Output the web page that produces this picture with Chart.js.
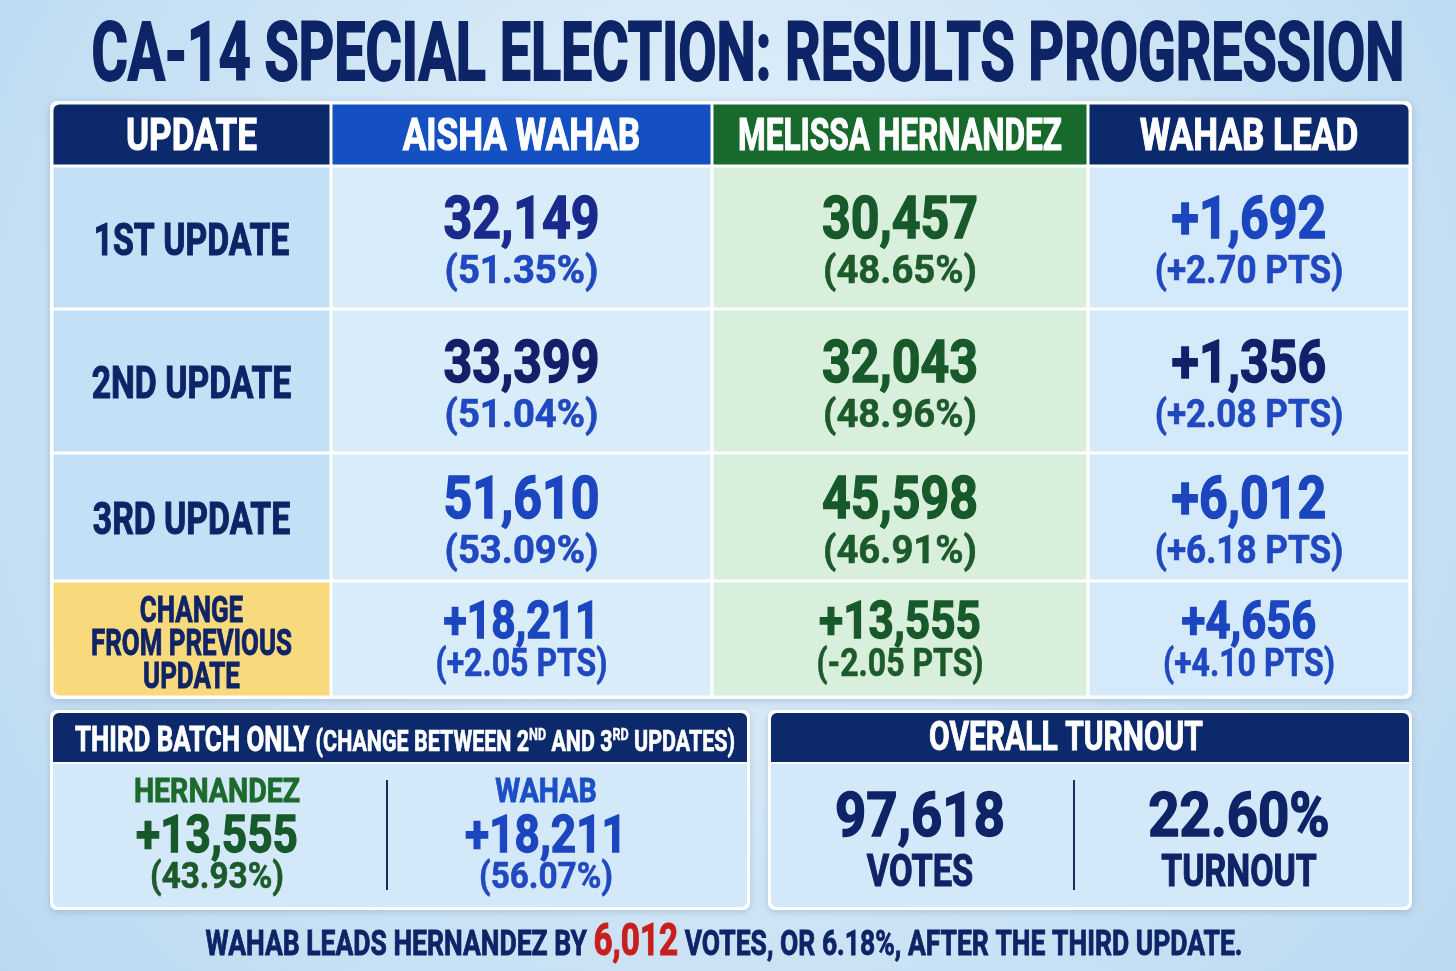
<!DOCTYPE html>
<html>
<head>
<meta charset="utf-8">
<script src="https://cdn.jsdelivr.net/npm/chart.js@4.4.1/dist/chart.umd.min.js"></script>
<style>
  html, body { margin: 0; padding: 0; background: #cfe5f7; overflow: hidden; }
  canvas { display: block; }
</style>
</head>
<body>
<canvas id="board" width="1456" height="971" style="width:1456px;height:971px"></canvas>
<script>
// ---- data ----
const title = "CA-14 SPECIAL ELECTION: RESULTS PROGRESSION";
const columns = ["UPDATE", "AISHA WAHAB", "MELISSA HERNANDEZ", "WAHAB LEAD"];
const updates = ["1ST UPDATE", "2ND UPDATE", "3RD UPDATE", "CHANGE\nFROM PREVIOUS\nUPDATE"];
const wahabVotes = [32149, 33399, 51610, 18211];
const wahabPct = [51.35, 51.04, 53.09, 2.05];
const hernVotes = [30457, 32043, 45598, 13555];
const hernPct = [48.65, 48.96, 46.91, -2.05];
const leadVotes = [1692, 1356, 6012, 4656];
const leadPts = [2.70, 2.08, 6.18, 4.10];
const batchNames = ["HERNANDEZ", "WAHAB"];
const batchVotes = [13555, 18211];
const batchPct = [43.93, 56.07];
const totalVotes = 97618;
const turnoutPct = 22.60;

// ---- layout (scale units) ----
const colEdges = [52, 331, 712, 1088, 1410];
const rowEdges = [103, 166, 309, 453, 581, 697];
const leftPanel = [52, 712, 748, 908];
const rightPanel = [770, 712, 1410, 908];

const SANS = "Roboto, 'Liberation Sans', sans-serif";
const NAVY = "#0f2467";
const GREEN = "#17592a";

const fmt = n => n.toLocaleString("en-US");
const signed = n => (n >= 0 ? "+" : "-") + fmt(Math.abs(n));
const pts = v => (v >= 0 ? "+" : "-") + Math.abs(v).toFixed(2) + " PTS";

// draw a line of text runs, horizontally squeezed to look condensed
function runs(ctx, parts, cx, base, sx, fitW, maxW, weight) {
  let total = 0;
  parts.forEach(p => {
    ctx.font = "bold " + p.s + "px " + SANS;
    p.w = ctx.measureText(p.t).width;
    total += p.w;
  });
  if (fitW) sx = fitW / total;
  if (maxW && total * sx > maxW) sx = maxW / total;
  const k = weight || 40;
  let x = cx - total * sx / 2;
  parts.forEach(p => {
    ctx.save();
    ctx.translate(x, base + (p.dy || 0));
    ctx.scale(sx, 1);
    ctx.font = "bold " + p.s + "px " + SANS;
    ctx.fillStyle = p.c;
    ctx.textAlign = "left";
    ctx.textBaseline = "alphabetic";
    ctx.fillText(p.t, 0, 0);
    ctx.strokeStyle = p.c;
    ctx.lineWidth = p.s / k;
    ctx.strokeText(p.t, 0, 0);
    ctx.restore();
    x += p.w * sx;
  });
}
function txt(ctx, t, cx, base, s, c, sx, o) {
  o = o || {};
  runs(ctx, [{ t: t, s: s, c: c }], cx, base, sx || 0.8, 0, o.maxW, o.weight);
}
function box(ctx, x0, y0, x1, y1, fill, r) {
  ctx.beginPath();
  ctx.roundRect(x0, y0, x1 - x0, y1 - y0, r || 0);
  ctx.fillStyle = fill;
  ctx.fill();
}

const tablePlugin = {
  id: "resultsTable",
  beforeDraw(chart) {
    const ctx = chart.ctx;
    const g = ctx.createRadialGradient(728, 330, 60, 728, 420, 950);
    g.addColorStop(0, "#e4f1fb");
    g.addColorStop(1, "#b9d8f0");
    ctx.fillStyle = g;
    ctx.fillRect(0, 0, chart.width, chart.height);
  },
  afterDraw(chart) {
    const ctx = chart.ctx;
    const X = v => chart.scales.x.getPixelForValue(v);
    const Y = v => chart.scales.y.getPixelForValue(v);

    // title
    runs(ctx, [{ t: title, s: 82, c: "#0d2466" }], X(748), Y(80), 0, 1313);

    // table frame
    ctx.save();
    ctx.shadowColor = "rgba(20,50,100,0.2)";
    ctx.shadowBlur = 8;
    ctx.shadowOffsetY = 2;
    box(ctx, X(colEdges[0]) - 2, Y(rowEdges[0]) - 2, X(colEdges[4]) + 2, Y(rowEdges[5]) + 2, "#ffffff", 7);
    ctx.restore();

    const headFill = ["#0c2a6b", "#1450c2", "#176a2b", "#0c2a6b"];
    const colFill = ["#c3e0f6", "#d9ecfa", "#d8efdb", "#d4e9f9"];
    const nR = updates.length + 1;
    for (let r = 0; r < nR; r++) {
      for (let c = 0; c < columns.length; c++) {
        const x0 = X(colEdges[c]) + 1.5, x1 = X(colEdges[c + 1]) - 1.5;
        const y0 = Y(rowEdges[r]) + 1.5, y1 = Y(rowEdges[r + 1]) - 1.5;
        let fill = r === 0 ? headFill[c] : colFill[c];
        if (r === nR - 1 && c === 0) fill = "#f8d97b";
        const rad = [
          r === 0 && c === 0 ? 6 : 0,
          r === 0 && c === 3 ? 6 : 0,
          r === nR - 1 && c === 3 ? 6 : 0,
          r === nR - 1 && c === 0 ? 6 : 0
        ];
        box(ctx, x0, y0, x1, y1, fill, rad);
      }
    }

    const cx = c => X((colEdges[c] + colEdges[c + 1]) / 2);
    const cy = r => (rowEdges[r + 1] + rowEdges[r + 2]) / 2;

    // header row
    columns.forEach((h, c) => txt(ctx, h, cx(c), Y(150), 45, "#ffffff", 0.78,
      { maxW: X(colEdges[c + 1]) - X(colEdges[c]) - 52 }));

    const wahabNumCol = ["#1a2a8c", "#141f6a", "#1b46bf", "#1b46bf"];
    const leadNumCol = ["#1b46bf", "#141f6a", "#1b46bf", "#1b46bf"];
    const light = { weight: 65 };

    updates.forEach((u, r) => {
      const mid = cy(r);
      const last = r === updates.length - 1;
      if (!last) {
        txt(ctx, u, cx(0), Y(mid + 17), 45, NAVY, 0.75);
        txt(ctx, fmt(wahabVotes[r]), cx(1), Y(mid + 0.5), 59, wahabNumCol[r], 0.85);
        txt(ctx, "(" + wahabPct[r].toFixed(2) + "%)", cx(1), Y(mid + 45.5), 39, "#2048c0", 0.98, light);
        txt(ctx, fmt(hernVotes[r]), cx(2), Y(mid + 0.5), 59, GREEN, 0.85);
        txt(ctx, "(" + hernPct[r].toFixed(2) + "%)", cx(2), Y(mid + 45.5), 39, "#1d5a2b", 0.98, light);
        txt(ctx, signed(leadVotes[r]), cx(3), Y(mid + 0.5), 59, leadNumCol[r], 0.85);
        txt(ctx, "(" + pts(leadPts[r]) + ")", cx(3), Y(mid + 45.5), 39, "#2048c0", 0.9, light);
      } else {
        const top = rowEdges[r + 1];
        u.split("\n").forEach((line, i) => txt(ctx, line, cx(0), Y(top + 41 + i * 33), 37, NAVY, 0.7));
        txt(ctx, signed(wahabVotes[r]), cx(1), Y(top + 57), 52, "#1b46bf", 0.82);
        txt(ctx, "(" + pts(wahabPct[r]) + ")", cx(1), Y(top + 95), 39, "#2048c0", 0.82, light);
        txt(ctx, signed(hernVotes[r]), cx(2), Y(top + 57), 52, GREEN, 0.85);
        txt(ctx, "(" + pts(hernPct[r]) + ")", cx(2), Y(top + 95), 39, "#1d5a2b", 0.82, light);
        txt(ctx, signed(leadVotes[r]), cx(3), Y(top + 57), 52, "#1b46bf", 0.84);
        txt(ctx, "(" + pts(leadPts[r]) + ")", cx(3), Y(top + 95), 39, "#2048c0", 0.82, light);
      }
    });

    // bottom panels
    [leftPanel, rightPanel].forEach(p => {
      ctx.save();
      ctx.shadowColor = "rgba(20,50,100,0.18)";
      ctx.shadowBlur = 7;
      ctx.shadowOffsetY = 2;
      box(ctx, X(p[0]) - 2, Y(p[1]) - 2, X(p[2]) + 2, Y(p[3]) + 2, "#ffffff", 7);
      ctx.restore();
      box(ctx, X(p[0]) + 1, Y(p[1]) + 1, X(p[2]) - 1, Y(p[1] + 50), "#0c2a6b", [6, 6, 0, 0]);
      box(ctx, X(p[0]) + 1, Y(p[1] + 52), X(p[2]) - 1, Y(p[3]) - 1, "#d3e8f9", [0, 0, 6, 6]);
    });

    // third batch panel
    runs(ctx, [
      { t: "THIRD BATCH ONLY ", s: 35, c: "#ffffff" },
      { t: "(CHANGE BETWEEN 2", s: 29, c: "#ffffff" },
      { t: "ND", s: 17, c: "#ffffff", dy: -11 },
      { t: " AND 3", s: 29, c: "#ffffff" },
      { t: "RD", s: 17, c: "#ffffff", dy: -11 },
      { t: " UPDATES)", s: 29, c: "#ffffff" }
    ], X(405), Y(751), 0, 660);

    const batchCx = [217, 546];
    const batchHead = ["#1c6a2c", "#1d4fc4"];
    const batchNum = [GREEN, "#1b46bf"];
    const batchPc = ["#1d5a2b", "#2048c0"];
    batchNames.forEach((n, i) => {
      txt(ctx, n, X(batchCx[i]), Y(802), 34, batchHead[i], 0.84);
      txt(ctx, signed(batchVotes[i]), X(batchCx[i]), Y(852), 52, batchNum[i], 0.85);
      txt(ctx, "(" + batchPct[i].toFixed(2) + "%)", X(batchCx[i]), Y(888), 37, batchPc[i], 0.9, light);
    });

    // turnout panel
    txt(ctx, "OVERALL TURNOUT", X(1066), Y(750), 40, "#ffffff", 0.75);
    txt(ctx, fmt(totalVotes), X(920), Y(836), 62, NAVY, 0.88);
    txt(ctx, "VOTES", X(920), Y(886), 44, NAVY, 0.78);
    txt(ctx, turnoutPct.toFixed(2) + "%", X(1239), Y(836), 62, NAVY, 0.88);
    txt(ctx, "TURNOUT", X(1239), Y(886), 44, NAVY, 0.77);

    // dividers
    ctx.strokeStyle = "#1b2b5e";
    ctx.lineWidth = 2;
    [387, 1074].forEach(x => {
      ctx.beginPath();
      ctx.moveTo(X(x), Y(780));
      ctx.lineTo(X(x), Y(890));
      ctx.stroke();
    });

    // footer sentence
    runs(ctx, [
      { t: "WAHAB LEADS HERNANDEZ BY ", s: 35, c: NAVY },
      { t: fmt(leadVotes[2]), s: 44, c: "#c81e1e" },
      { t: " VOTES, OR " + leadPts[2].toFixed(2) + "%, AFTER THE THIRD UPDATE.", s: 35, c: NAVY }
    ], X(724), Y(955), 0, 1037);
  }
};

const board = new Chart(document.getElementById("board"), {
  type: "scatter",
  data: { datasets: [{ data: [] }] },
  options: {
    responsive: false,
    animation: false,
    devicePixelRatio: 1,
    layout: { padding: 0 },
    plugins: { legend: { display: false }, tooltip: { enabled: false } },
    scales: {
      x: { type: "linear", display: false, min: 0, max: 1456 },
      y: { type: "linear", display: false, min: 0, max: 971, reverse: true }
    }
  },
  plugins: [tablePlugin]
});
</script>
</body>
</html>
